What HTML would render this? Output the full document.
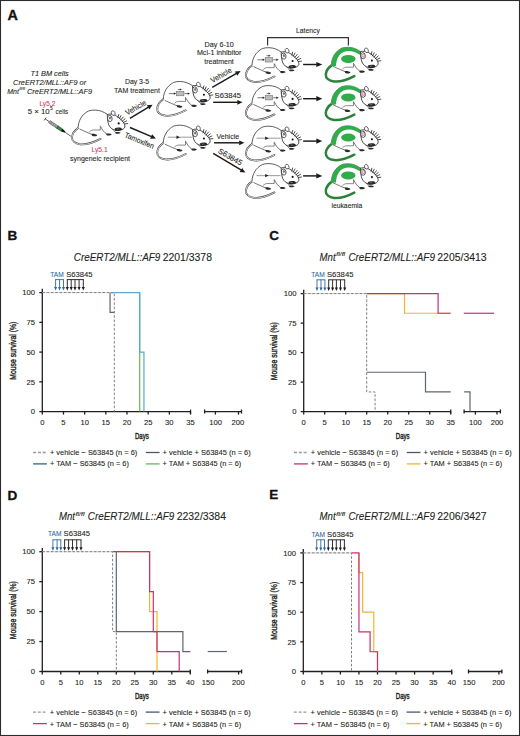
<!DOCTYPE html><html><head><meta charset="utf-8"><style>html,body{margin:0;padding:0;background:#fff;}svg{display:block;font-family:"Liberation Sans",sans-serif;}</style></head><body>
<svg width="520" height="736" viewBox="0 0 520 736">
<rect x="0" y="0" width="520" height="736" fill="#fff"/>
<defs><g id="mw"><path d="M7.4 17.6 C4 19.8 1.2 23.2 0.9 27.2 C0.7 30.8 4 33.6 9.2 34.2 C15 34.8 21 33.2 29.4 28.8" fill="none" stroke="#3a3a3a" stroke-width="1.8" stroke-linecap="round"/><path d="M7.4 17.6 C4 19.8 1.2 23.2 0.9 27.2 C0.7 30.8 4 33.6 9.2 34.2 C15 34.8 21 33.2 29.4 28.8" fill="none" stroke="#fff" stroke-width="0.8" stroke-linecap="round"/><path d="M7 17.6 C7.3 10.5 10.8 4.2 17.4 0.9 C21 -0.5 27 -0.2 30.5 1.2 C32.6 2 34.6 3.1 36.4 4.4 L38.2 14 C36.5 17.2 33.4 19.6 29.4 20.2 L22 20.3 C17 21.6 12.6 21 8.4 18.8 Z" fill="#fff" stroke="none"/><path d="M7 17.6 C7.3 10.5 10.8 4.2 17.4 0.9 C21 -0.5 27 -0.2 30.5 1.2 C32.6 2 34.6 3.1 36.4 4.4" fill="none" stroke="#333" stroke-width="0.8"/><path d="M8.4 18.8 C11 20.2 13.4 21.1 15.4 22 C17.2 22.9 19 23.7 21 24.3" fill="none" stroke="#2a2a2a" stroke-width="0.65"/><path d="M20.4 23.8 C22.6 23.5 25 24 26.2 25.2 C25.2 26.5 22.6 26.5 20.9 25.6 Z" fill="#2a2a2a"/><path d="M18.1 22 C19.5 20.5 21 19.9 22.2 19.9 L29.2 19.9 M29.2 15.6 V19.9" fill="none" stroke="#2a2a2a" stroke-width="0.55"/><path d="M29.5 16.5 C31 19.5 33 22.3 35.6 23.9" fill="none" stroke="#2a2a2a" stroke-width="0.65"/><path d="M35 23.7 C37 23 39.6 23.3 40.6 24.4 C39.6 25.6 37 25.7 35.5 25.1 Z" fill="#2a2a2a"/><path d="M41.3 18.6 C42.3 20 43.3 21.3 44.6 22.3" fill="none" stroke="#2a2a2a" stroke-width="0.6"/><path d="M44 22.2 C46 21.5 48.6 21.7 49.6 22.6 C48.6 23.6 46 23.8 44.5 23.3 Z" fill="#2a2a2a"/><path d="M36.2 4.4 C38.6 3.6 42 3.9 44.6 5.4 C47.4 7 50.2 9.6 52.1 12 C53.3 13.6 54.1 15.4 53.8 16.9 C53.1 18.6 51.5 19.5 49.6 19.8 L44.2 20 C41.2 19.6 38.9 17.6 37.6 14.6 C36.7 12 36.2 8.2 36.2 4.4 Z" fill="#fff" stroke="#2a2a2a" stroke-width="0.85"/><ellipse cx="42.1" cy="3.0" rx="1.8" ry="2.4" transform="rotate(-25 42.1 3.0)" fill="#fff" stroke="#2a2a2a" stroke-width="0.65"/><ellipse cx="38.7" cy="8.4" rx="2.3" ry="3.1" transform="rotate(-10 38.7 8.4)" fill="#fff" stroke="#2a2a2a" stroke-width="0.75"/><ellipse cx="38.9" cy="8.0" rx="1.1" ry="1.4" fill="#777" stroke="none"/><circle cx="47.6" cy="13.3" r="1.05" fill="#111"/><path d="M43.6 18.2 C45.2 17.3 48 17.1 50.2 17.8 L51.2 19.4 C49.4 20.6 46.4 21.3 44.2 20.9 Z" fill="#262626"/><path d="M45.6 18.4 L46.3 19.5 L47.1 18.3 L47.9 19.4" fill="none" stroke="#ddd" stroke-width="0.3"/><line x1="46.8" y1="7.5" x2="47.6" y2="4.4" stroke="#222" stroke-width="0.8" stroke-linecap="round"/><line x1="48.3" y1="8.6" x2="49.92" y2="5.4" stroke="#222" stroke-width="0.8" stroke-linecap="round"/><line x1="49.8" y1="9.8" x2="52.16" y2="6.84" stroke="#222" stroke-width="0.8" stroke-linecap="round"/><line x1="51.2" y1="11.0" x2="53.97" y2="8.7" stroke="#222" stroke-width="0.8" stroke-linecap="round"/><line x1="52.5" y1="12.3" x2="55.56" y2="10.8" stroke="#222" stroke-width="0.8" stroke-linecap="round"/><line x1="53.6" y1="13.8" x2="56.54" y2="13.44" stroke="#222" stroke-width="0.8" stroke-linecap="round"/></g><g id="mg"><path d="M7.4 17.6 C4 19.8 1.2 23.2 0.9 27.2 C0.7 30.8 4 33.6 9.2 34.2 C15 34.8 21 33.2 29.4 28.8" fill="none" stroke="#2c8239" stroke-width="2.5" stroke-linecap="round" transform="translate(0.6 0)"/><path d="M7 17.6 C7.3 10.5 10.8 4.2 17.4 0.9 C21 -0.5 27 -0.2 30.5 1.2 C32.6 2 34.6 3.1 36.4 4.4 L38.2 14 C36.5 17.2 33.4 19.6 29.4 20.2 L22 20.3 C17 21.6 12.6 21 8.4 18.8 Z" fill="#fff" stroke="none"/><path d="M7 17.6 C7.3 10.5 10.8 4.2 17.4 0.9 C21 -0.5 27 -0.2 30.5 1.2 C32.6 2 34.6 3.1 36.4 4.4" fill="none" stroke="#333" stroke-width="0.6"/><path d="M6.9 18.8 C7.0 10.5 10.7 4.1 17.3 0.8 C21 -0.6 27 -0.3 30.6 1.1 C32.7 1.9 34.7 3.0 36.6 4.3 L35.5 7.4 C33.8 6.3 32 5.3 30.1 4.6 C27 3.4 22.4 3.3 19.3 4.6 C14.6 6.8 12.0 11.4 11.7 18.8 Z" fill="#30ad4a"/><ellipse cx="24.0" cy="11.6" rx="7.2" ry="4.0" fill="#30ad4a"/><path d="M8.4 18.8 C11 20.2 13.4 21.1 15.4 22 C17.2 22.9 19 23.7 21 24.3" fill="none" stroke="#2a2a2a" stroke-width="0.65"/><path d="M20.4 23.8 C22.6 23.5 25 24 26.2 25.2 C25.2 26.5 22.6 26.5 20.9 25.6 Z" fill="#2a2a2a"/><path d="M18.1 22 C19.5 20.5 21 19.9 22.2 19.9 L29.2 19.9 M29.2 15.6 V19.9" fill="none" stroke="#2a2a2a" stroke-width="0.55"/><path d="M29.5 16.5 C31 19.5 33 22.3 35.6 23.9" fill="none" stroke="#2a2a2a" stroke-width="0.65"/><path d="M35 23.7 C37 23 39.6 23.3 40.6 24.4 C39.6 25.6 37 25.7 35.5 25.1 Z" fill="#2a2a2a"/><path d="M41.3 18.6 C42.3 20 43.3 21.3 44.6 22.3" fill="none" stroke="#2a2a2a" stroke-width="0.6"/><path d="M44 22.2 C46 21.5 48.6 21.7 49.6 22.6 C48.6 23.6 46 23.8 44.5 23.3 Z" fill="#2a2a2a"/><path d="M36.2 4.4 C38.6 3.6 42 3.9 44.6 5.4 C47.4 7 50.2 9.6 52.1 12 C53.3 13.6 54.1 15.4 53.8 16.9 C53.1 18.6 51.5 19.5 49.6 19.8 L44.2 20 C41.2 19.6 38.9 17.6 37.6 14.6 C36.7 12 36.2 8.2 36.2 4.4 Z" fill="#fff" stroke="#2a2a2a" stroke-width="0.85"/><ellipse cx="42.1" cy="3.0" rx="1.8" ry="2.4" transform="rotate(-25 42.1 3.0)" fill="#fff" stroke="#2a2a2a" stroke-width="0.65"/><ellipse cx="38.7" cy="8.4" rx="2.3" ry="3.1" transform="rotate(-10 38.7 8.4)" fill="#fff" stroke="#2a2a2a" stroke-width="0.75"/><ellipse cx="38.9" cy="8.2" rx="1.2" ry="1.6" fill="#fbe3ea" stroke="#c03a5a" stroke-width="0.55"/><circle cx="47.6" cy="13.3" r="1.05" fill="#111"/><path d="M43.6 18.2 C45.2 17.3 48 17.1 50.2 17.8 L51.2 19.4 C49.4 20.6 46.4 21.3 44.2 20.9 Z" fill="#262626"/><path d="M45.6 18.4 L46.3 19.5 L47.1 18.3 L47.9 19.4" fill="none" stroke="#ddd" stroke-width="0.3"/><line x1="46.8" y1="7.5" x2="47.6" y2="4.4" stroke="#222" stroke-width="0.8" stroke-linecap="round"/><line x1="48.3" y1="8.6" x2="49.92" y2="5.4" stroke="#222" stroke-width="0.8" stroke-linecap="round"/><line x1="49.8" y1="9.8" x2="52.16" y2="6.84" stroke="#222" stroke-width="0.8" stroke-linecap="round"/><line x1="51.2" y1="11.0" x2="53.97" y2="8.7" stroke="#222" stroke-width="0.8" stroke-linecap="round"/><line x1="52.5" y1="12.3" x2="55.56" y2="10.8" stroke="#222" stroke-width="0.8" stroke-linecap="round"/><line x1="53.6" y1="13.8" x2="56.54" y2="13.44" stroke="#222" stroke-width="0.8" stroke-linecap="round"/></g></defs>
<text x="7.40" y="19.70" font-size="13.8" fill="#111" font-weight="bold" textLength="10.40" lengthAdjust="spacingAndGlyphs" stroke="#111" stroke-width="0.3">A</text>
<text x="30.40" y="75.90" font-size="7.6" fill="#231f20" font-style="italic" textLength="38.40" lengthAdjust="spacingAndGlyphs"  stroke="#231f20" stroke-width="0.1">T1 BM cells</text>
<text x="13.10" y="84.60" font-size="7.6" fill="#231f20" font-style="italic" textLength="73.00" lengthAdjust="spacingAndGlyphs"  stroke="#231f20" stroke-width="0.1">CreERT2/MLL::AF9 or</text>
<text x="7.30" y="93.90" font-size="7.6" fill="#231f20" font-style="italic" textLength="11.60" lengthAdjust="spacingAndGlyphs"  stroke="#231f20" stroke-width="0.1">Mnt</text>
<text x="19.30" y="90.40" font-size="4.4" fill="#231f20" font-style="italic" textLength="5.60" lengthAdjust="spacingAndGlyphs"  stroke="#231f20" stroke-width="0.1">fl/fl</text>
<text x="26.90" y="93.90" font-size="7.6" fill="#231f20" font-style="italic" textLength="65.20" lengthAdjust="spacingAndGlyphs"  stroke="#231f20" stroke-width="0.1">CreERT2/MLL::AF9</text>
<text x="39.40" y="105.60" font-size="7.6" fill="#d23a5f" textLength="16.00" lengthAdjust="spacingAndGlyphs"  stroke="#d23a5f" stroke-width="0.1">Ly5.2</text>
<text x="27.80" y="114.00" font-size="7.6" fill="#231f20" textLength="21.80" lengthAdjust="spacingAndGlyphs"  stroke="#231f20" stroke-width="0.1">5 × 10</text>
<text x="50.10" y="110.40" font-size="5.0" fill="#231f20" textLength="2.60" lengthAdjust="spacingAndGlyphs"  stroke="#231f20" stroke-width="0.1">5</text>
<text x="55.60" y="114.00" font-size="7.6" fill="#231f20" textLength="12.60" lengthAdjust="spacingAndGlyphs"  stroke="#231f20" stroke-width="0.1">cells</text>
<g transform="translate(45.2 118.9) rotate(34)"><line x1="0" y1="-1.8" x2="0" y2="1.8" stroke="#444" stroke-width="0.8"/><line x1="0" y1="0" x2="5" y2="0" stroke="#444" stroke-width="0.8"/><rect x="5" y="-1.35" width="10.5" height="2.7" fill="#a8a8a8" stroke="#444" stroke-width="0.5"/><line x1="7.5" y1="-1.3" x2="7.5" y2="1.3" stroke="#555" stroke-width="0.4"/><line x1="10" y1="-1.3" x2="10" y2="1.3" stroke="#555" stroke-width="0.4"/><line x1="12.5" y1="-1.3" x2="12.5" y2="1.3" stroke="#555" stroke-width="0.4"/><rect x="14.6" y="-1.35" width="5.6" height="2.7" fill="#2f8f3c" stroke="#1e1e1e" stroke-width="0.45"/><path d="M20 -1.5 L24 -0.6 L24 0.6 L20 1.5 Z" fill="#111"/><line x1="24" y1="0" x2="31" y2="0" stroke="#222" stroke-width="0.65"/></g>
<use href="#mw" x="71.1" y="110.1"/>
<text x="91.50" y="152.30" font-size="7.6" fill="#d23a5f" textLength="16.20" lengthAdjust="spacingAndGlyphs"  stroke="#d23a5f" stroke-width="0.1">Ly5.1</text>
<text x="70.00" y="160.80" font-size="7.6" fill="#231f20" textLength="60.00" lengthAdjust="spacingAndGlyphs"  stroke="#231f20" stroke-width="0.1">syngeneic recipient</text>
<line x1="129.90" y1="118.40" x2="148.58" y2="107.13" stroke="#1a1a1a" stroke-width="1.45"/>
<polygon points="152.60,104.70 149.39,109.44 146.91,105.33" fill="#1a1a1a"/>
<text x="127.20" y="115.60" font-size="7.6" fill="#231f20" textLength="22.80" lengthAdjust="spacingAndGlyphs" transform="rotate(-30 127.20 115.60)"  stroke="#231f20" stroke-width="0.1">Vehicle</text>
<line x1="130.00" y1="127.50" x2="151.57" y2="136.66" stroke="#1a1a1a" stroke-width="1.45"/>
<polygon points="155.90,138.50 150.18,138.68 152.05,134.26" fill="#1a1a1a"/>
<text x="124.00" y="136.90" font-size="7.6" fill="#231f20" textLength="31.20" lengthAdjust="spacingAndGlyphs" transform="rotate(23 124.00 136.90)"  stroke="#231f20" stroke-width="0.1">Tamoxifen</text>
<text x="124.90" y="84.10" font-size="7.6" fill="#231f20" textLength="24.20" lengthAdjust="spacingAndGlyphs"  stroke="#231f20" stroke-width="0.1">Day 3-5</text>
<text x="114.10" y="92.90" font-size="7.6" fill="#231f20" textLength="45.80" lengthAdjust="spacingAndGlyphs"  stroke="#231f20" stroke-width="0.1">TAM treatment</text>
<use href="#mw" x="156.3" y="81.5"/>
<rect x="176.50" y="91.40" width="7.4" height="4.4" fill="#bdbdbd" stroke="#666" stroke-width="0.55"/>
<line x1="168.80" y1="93.60" x2="174.50" y2="93.60" stroke="#222" stroke-width="0.6"/>
<polygon points="176.10,93.60 173.90,92.40 173.90,94.80" fill="#222"/>
<line x1="184.50" y1="93.60" x2="188.30" y2="93.60" stroke="#222" stroke-width="0.6"/>
<polygon points="189.90,93.60 187.70,92.40 187.70,94.80" fill="#222"/>
<line x1="177.80" y1="89.50" x2="180.30" y2="89.50" stroke="#222" stroke-width="0.6"/>
<polygon points="181.90,89.50 179.90,88.50 179.90,90.50" fill="#222"/>
<use href="#mw" x="156.3" y="125.2"/>
<line x1="167.80" y1="137.20" x2="191.80" y2="137.20" stroke="#a3a3a3" stroke-width="1.1"/>
<polygon points="179.90,137.20 176.50,135.50 176.50,138.90" fill="#222"/>
<text x="204.60" y="46.90" font-size="7.6" fill="#231f20" textLength="29.20" lengthAdjust="spacingAndGlyphs"  stroke="#231f20" stroke-width="0.1">Day 6-10</text>
<text x="196.90" y="55.40" font-size="7.6" fill="#231f20" textLength="44.60" lengthAdjust="spacingAndGlyphs"  stroke="#231f20" stroke-width="0.1">Mcl-1 inhibitor</text>
<text x="204.30" y="63.80" font-size="7.6" fill="#231f20" textLength="29.50" lengthAdjust="spacingAndGlyphs"  stroke="#231f20" stroke-width="0.1">treatment</text>
<line x1="212.20" y1="87.40" x2="236.52" y2="73.44" stroke="#1a1a1a" stroke-width="1.45"/>
<polygon points="240.60,71.10 237.28,75.77 234.90,71.61" fill="#1a1a1a"/>
<text x="212.60" y="83.20" font-size="7.6" fill="#231f20" textLength="22.80" lengthAdjust="spacingAndGlyphs" transform="rotate(-30 212.60 83.20)"  stroke="#231f20" stroke-width="0.1">Vehicle</text>
<line x1="213.20" y1="102.30" x2="237.80" y2="102.30" stroke="#1a1a1a" stroke-width="1.45"/>
<polygon points="242.50,102.30 237.30,104.70 237.30,99.90" fill="#1a1a1a"/>
<text x="214.60" y="97.50" font-size="7.6" fill="#231f20" textLength="26.40" lengthAdjust="spacingAndGlyphs"  stroke="#231f20" stroke-width="0.1">S63845</text>
<line x1="214.10" y1="142.80" x2="239.70" y2="142.80" stroke="#1a1a1a" stroke-width="1.45"/>
<polygon points="244.40,142.80 239.20,145.20 239.20,140.40" fill="#1a1a1a"/>
<text x="216.50" y="139.40" font-size="7.6" fill="#231f20" textLength="22.60" lengthAdjust="spacingAndGlyphs"  stroke="#231f20" stroke-width="0.1">Vehicle</text>
<line x1="213.20" y1="153.40" x2="241.36" y2="170.19" stroke="#1a1a1a" stroke-width="1.45"/>
<polygon points="245.40,172.60 239.70,172.00 242.16,167.88" fill="#1a1a1a"/>
<text x="217.60" y="152.40" font-size="7.6" fill="#231f20" textLength="26.40" lengthAdjust="spacingAndGlyphs" transform="rotate(30.5 217.60 152.40)"  stroke="#231f20" stroke-width="0.1">S63845</text>
<text x="296.10" y="33.10" font-size="7.6" fill="#231f20" textLength="23.70" lengthAdjust="spacingAndGlyphs"  stroke="#231f20" stroke-width="0.1">Latency</text>
<path d="M267.6 45.5 V37.6 H348.4 V45.5" stroke="#333" stroke-width="1.2" fill="none"/>
<use href="#mw" x="245.0" y="47.7"/>
<rect x="265.20" y="57.60" width="7.4" height="4.4" fill="#bdbdbd" stroke="#666" stroke-width="0.55"/>
<line x1="257.50" y1="59.80" x2="263.20" y2="59.80" stroke="#222" stroke-width="0.6"/>
<polygon points="264.80,59.80 262.60,58.60 262.60,61.00" fill="#222"/>
<line x1="273.20" y1="59.80" x2="277.00" y2="59.80" stroke="#222" stroke-width="0.6"/>
<polygon points="278.60,59.80 276.40,58.60 276.40,61.00" fill="#222"/>
<line x1="266.50" y1="55.70" x2="269.00" y2="55.70" stroke="#222" stroke-width="0.6"/>
<polygon points="270.60,55.70 268.60,54.70 268.60,56.70" fill="#222"/>
<use href="#mg" x="324.3" y="47.3"/>
<line x1="303.10" y1="64.50" x2="316.80" y2="64.50" stroke="#1a1a1a" stroke-width="1.45"/>
<polygon points="322.30,64.50 316.30,67.10 316.30,61.90" fill="#1a1a1a"/>
<use href="#mw" x="245.0" y="85.6"/>
<rect x="265.20" y="95.50" width="7.4" height="4.4" fill="#bdbdbd" stroke="#666" stroke-width="0.55"/>
<line x1="257.50" y1="97.70" x2="263.20" y2="97.70" stroke="#222" stroke-width="0.6"/>
<polygon points="264.80,97.70 262.60,96.50 262.60,98.90" fill="#222"/>
<line x1="273.20" y1="97.70" x2="277.00" y2="97.70" stroke="#222" stroke-width="0.6"/>
<polygon points="278.60,97.70 276.40,96.50 276.40,98.90" fill="#222"/>
<line x1="266.50" y1="93.60" x2="269.00" y2="93.60" stroke="#222" stroke-width="0.6"/>
<polygon points="270.60,93.60 268.60,92.60 268.60,94.60" fill="#222"/>
<use href="#mg" x="324.3" y="85.8"/>
<line x1="303.10" y1="98.70" x2="316.80" y2="98.70" stroke="#1a1a1a" stroke-width="1.45"/>
<polygon points="322.30,98.70 316.30,101.30 316.30,96.10" fill="#1a1a1a"/>
<use href="#mw" x="245.0" y="126.2"/>
<line x1="256.50" y1="138.20" x2="280.50" y2="138.20" stroke="#a3a3a3" stroke-width="1.1"/>
<polygon points="268.60,138.20 265.20,136.50 265.20,139.90" fill="#222"/>
<use href="#mg" x="324.3" y="125.9"/>
<line x1="303.10" y1="141.10" x2="316.80" y2="141.10" stroke="#1a1a1a" stroke-width="1.45"/>
<polygon points="322.30,141.10 316.30,143.70 316.30,138.50" fill="#1a1a1a"/>
<use href="#mw" x="245.0" y="163.6"/>
<line x1="256.50" y1="175.60" x2="280.50" y2="175.60" stroke="#a3a3a3" stroke-width="1.1"/>
<polygon points="268.60,175.60 265.20,173.90 265.20,177.30" fill="#222"/>
<use href="#mg" x="324.3" y="163.8"/>
<line x1="303.10" y1="175.90" x2="316.80" y2="175.90" stroke="#1a1a1a" stroke-width="1.45"/>
<polygon points="322.30,175.90 316.30,178.50 316.30,173.30" fill="#1a1a1a"/>
<text x="331.40" y="207.90" font-size="7.6" fill="#231f20" textLength="31.00" lengthAdjust="spacingAndGlyphs"  stroke="#231f20" stroke-width="0.1">leukaemia</text>
<text x="7.60" y="239.70" font-size="13.2" fill="#111" font-weight="bold" textLength="9.80" lengthAdjust="spacingAndGlyphs" stroke="#111" stroke-width="0.3">B</text>
<text x="73.80" y="260.70" font-size="10.2" fill="#231f20" font-style="italic" textLength="86.50" lengthAdjust="spacingAndGlyphs"  stroke="#231f20" stroke-width="0.1">CreERT2/MLL::AF9</text>
<text x="162.70" y="260.70" font-size="10.2" fill="#231f20" textLength="49.30" lengthAdjust="spacingAndGlyphs"  stroke="#231f20" stroke-width="0.1">2201/3378</text>
<g stroke="#231f20" stroke-width="1.3" fill="none">
<path d="M42.30 288.80 V411.60 H190.53"/>
<path d="M190.53 409.60 V413.60"/>
<path d="M204.60 409.60 V413.60 M204.60 411.60 H241.50 M241.50 409.60 V413.60"/>
<path d="M39.30 411.60 H42.30"/>
<path d="M39.30 381.85 H42.30"/>
<path d="M39.30 352.10 H42.30"/>
<path d="M39.30 322.35 H42.30"/>
<path d="M39.30 292.60 H42.30"/>
<path d="M42.30 411.60 V414.60"/>
<path d="M63.47 411.60 V414.60"/>
<path d="M84.65 411.60 V414.60"/>
<path d="M105.83 411.60 V414.60"/>
<path d="M127.00 411.60 V414.60"/>
<path d="M148.18 411.60 V414.60"/>
<path d="M169.35 411.60 V414.60"/>
<path d="M190.53 411.60 V414.60"/>
<path d="M215.40 411.60 V414.60"/>
<path d="M238.50 411.60 V414.60"/>
</g>
<text x="35.10" y="414.30" font-size="7.7" fill="#231f20" text-anchor="end"  stroke="#231f20" stroke-width="0.1">0</text>
<text x="35.10" y="384.55" font-size="7.7" fill="#231f20" text-anchor="end"  stroke="#231f20" stroke-width="0.1">25</text>
<text x="35.10" y="354.80" font-size="7.7" fill="#231f20" text-anchor="end"  stroke="#231f20" stroke-width="0.1">50</text>
<text x="35.10" y="325.05" font-size="7.7" fill="#231f20" text-anchor="end"  stroke="#231f20" stroke-width="0.1">75</text>
<text x="35.10" y="295.30" font-size="7.7" fill="#231f20" text-anchor="end"  stroke="#231f20" stroke-width="0.1">100</text>
<text x="42.30" y="425.00" font-size="7.6" fill="#231f20" text-anchor="middle"  stroke="#231f20" stroke-width="0.1">0</text>
<text x="63.47" y="425.00" font-size="7.6" fill="#231f20" text-anchor="middle"  stroke="#231f20" stroke-width="0.1">5</text>
<text x="84.65" y="425.00" font-size="7.6" fill="#231f20" text-anchor="middle"  stroke="#231f20" stroke-width="0.1">10</text>
<text x="105.83" y="425.00" font-size="7.6" fill="#231f20" text-anchor="middle"  stroke="#231f20" stroke-width="0.1">15</text>
<text x="127.00" y="425.00" font-size="7.6" fill="#231f20" text-anchor="middle"  stroke="#231f20" stroke-width="0.1">20</text>
<text x="148.18" y="425.00" font-size="7.6" fill="#231f20" text-anchor="middle"  stroke="#231f20" stroke-width="0.1">25</text>
<text x="169.35" y="425.00" font-size="7.6" fill="#231f20" text-anchor="middle"  stroke="#231f20" stroke-width="0.1">30</text>
<text x="190.53" y="425.00" font-size="7.6" fill="#231f20" text-anchor="middle"  stroke="#231f20" stroke-width="0.1">35</text>
<text x="215.60" y="425.00" font-size="7.6" fill="#231f20" text-anchor="middle"  stroke="#231f20" stroke-width="0.1">100</text>
<text x="237.80" y="425.00" font-size="7.6" fill="#231f20" text-anchor="middle"  stroke="#231f20" stroke-width="0.1">200</text>
<text x="134.90" y="438.60" font-size="8.9" fill="#231f20" textLength="13.80" lengthAdjust="spacingAndGlyphs" stroke="#231f20" stroke-width="0.42">Days</text>
<text x="15.80" y="379.70" font-size="8.8" fill="#231f20" textLength="58.00" lengthAdjust="spacingAndGlyphs" transform="rotate(-90 15.80 379.70)" stroke="#231f20" stroke-width="0.38">Mouse survival (%)</text>
<text x="50.30" y="276.80" font-size="7.8" fill="#2d6aa3" textLength="13.40" lengthAdjust="spacingAndGlyphs"  stroke="#2d6aa3" stroke-width="0.1">TAM</text>
<text x="66.20" y="276.80" font-size="7.8" fill="#231f20" textLength="26.40" lengthAdjust="spacingAndGlyphs"  stroke="#231f20" stroke-width="0.1">S63845</text>
<path d="M55.15 279.60 H63.95" stroke="#2d6aa3" stroke-width="0.9" fill="none"/>
<path d="M55.60 279.60 V287.90" stroke="#2d6aa3" stroke-width="0.9" fill="none"/>
<polygon points="55.60,290.40 54.05,287.00 57.15,287.00" fill="#2d6aa3"/>
<path d="M59.60 279.60 V287.90" stroke="#2d6aa3" stroke-width="0.9" fill="none"/>
<polygon points="59.60,290.40 58.05,287.00 61.15,287.00" fill="#2d6aa3"/>
<path d="M63.50 279.60 V287.90" stroke="#2d6aa3" stroke-width="0.9" fill="none"/>
<polygon points="63.50,290.40 61.95,287.00 65.05,287.00" fill="#2d6aa3"/>
<path d="M66.85 279.60 H83.75" stroke="#1a1a1a" stroke-width="0.9" fill="none"/>
<path d="M67.30 279.60 V287.90" stroke="#1a1a1a" stroke-width="0.9" fill="none"/>
<polygon points="67.30,290.40 65.75,287.00 68.85,287.00" fill="#1a1a1a"/>
<path d="M71.20 279.60 V287.90" stroke="#1a1a1a" stroke-width="0.9" fill="none"/>
<polygon points="71.20,290.40 69.65,287.00 72.75,287.00" fill="#1a1a1a"/>
<path d="M75.00 279.60 V287.90" stroke="#1a1a1a" stroke-width="0.9" fill="none"/>
<polygon points="75.00,290.40 73.45,287.00 76.55,287.00" fill="#1a1a1a"/>
<path d="M79.10 279.60 V287.90" stroke="#1a1a1a" stroke-width="0.9" fill="none"/>
<polygon points="79.10,290.40 77.55,287.00 80.65,287.00" fill="#1a1a1a"/>
<path d="M83.30 279.60 V287.90" stroke="#1a1a1a" stroke-width="0.9" fill="none"/>
<polygon points="83.30,290.40 81.75,287.00 84.85,287.00" fill="#1a1a1a"/>
<path d="M139.70 292.60 H139.70 V411.60" stroke="#5db85f" stroke-width="1.2" fill="none"/>
<path d="M110.06 292.60 H139.70 V292.60 H139.70 V352.10 H143.94 V352.10 H143.94 V411.60" stroke="#5aaacb" stroke-width="1.2" fill="none"/>
<path d="M110.06 292.60 H110.06 V312.44 H114.30 V312.44" stroke="#5d6670" stroke-width="1.2" fill="none"/>
<path d="M42.30 292.60 H114.30" stroke="#cfcfcf" stroke-width="0.8" fill="none"/>
<path d="M42.30 292.60 H114.30 V292.60 H114.30 V411.60" stroke="#808080" stroke-width="1.0" fill="none" stroke-dasharray="2.6 1.7"/>
<path d="M33.10 452.50 H46.90" stroke="#999" stroke-width="1.3" fill="none" stroke-dasharray="3 1.8"/>
<text x="49.90" y="454.80" font-size="8.0" fill="#231f20" textLength="87.40" lengthAdjust="spacingAndGlyphs"  stroke="#231f20" stroke-width="0.1">+ vehicle − S63845 (n = 6)</text>
<path d="M145.80 452.50 H159.60" stroke="#4b5866" stroke-width="1.3" fill="none"/>
<text x="162.60" y="454.80" font-size="8.0" fill="#231f20" textLength="88.20" lengthAdjust="spacingAndGlyphs"  stroke="#231f20" stroke-width="0.1">+ vehicle + S63845 (n = 6)</text>
<path d="M33.10 463.90 H46.90" stroke="#2d5f8f" stroke-width="1.3" fill="none"/>
<text x="49.90" y="466.40" font-size="8.0" fill="#231f20" textLength="79.00" lengthAdjust="spacingAndGlyphs"  stroke="#231f20" stroke-width="0.1">+ TAM − S63845 (n = 6)</text>
<path d="M145.80 463.90 H159.60" stroke="#5db85f" stroke-width="1.3" fill="none"/>
<text x="162.60" y="466.40" font-size="8.0" fill="#231f20" textLength="78.60" lengthAdjust="spacingAndGlyphs"  stroke="#231f20" stroke-width="0.1">+ TAM + S63845 (n = 6)</text>
<text x="269.20" y="239.70" font-size="13.2" fill="#111" font-weight="bold" textLength="9.80" lengthAdjust="spacingAndGlyphs" stroke="#111" stroke-width="0.3">C</text>
<text x="319.60" y="260.70" font-size="10.2" fill="#231f20" font-style="italic" textLength="16.00" lengthAdjust="spacingAndGlyphs"  stroke="#231f20" stroke-width="0.1">Mnt</text>
<text x="336.20" y="256.10" font-size="5.8" fill="#231f20" font-style="italic" textLength="9.00" lengthAdjust="spacingAndGlyphs"  stroke="#231f20" stroke-width="0.1">fl/fl</text>
<text x="348.40" y="260.70" font-size="10.2" fill="#231f20" font-style="italic" textLength="86.50" lengthAdjust="spacingAndGlyphs"  stroke="#231f20" stroke-width="0.1">CreERT2/MLL::AF9</text>
<text x="437.30" y="260.70" font-size="10.2" fill="#231f20" textLength="49.30" lengthAdjust="spacingAndGlyphs"  stroke="#231f20" stroke-width="0.1">2205/3413</text>
<g stroke="#231f20" stroke-width="1.3" fill="none">
<path d="M303.70 289.80 V411.60 H450.70"/>
<path d="M450.70 409.60 V413.60"/>
<path d="M464.10 409.60 V413.60 M464.10 411.60 H500.40 M500.40 409.60 V413.60"/>
<path d="M300.70 411.60 H303.70"/>
<path d="M300.70 382.10 H303.70"/>
<path d="M300.70 352.60 H303.70"/>
<path d="M300.70 323.10 H303.70"/>
<path d="M300.70 293.60 H303.70"/>
<path d="M303.70 411.60 V414.60"/>
<path d="M324.70 411.60 V414.60"/>
<path d="M345.70 411.60 V414.60"/>
<path d="M366.70 411.60 V414.60"/>
<path d="M387.70 411.60 V414.60"/>
<path d="M408.70 411.60 V414.60"/>
<path d="M429.70 411.60 V414.60"/>
<path d="M450.70 411.60 V414.60"/>
<path d="M475.40 411.60 V414.60"/>
<path d="M497.00 411.60 V414.60"/>
</g>
<text x="296.50" y="414.30" font-size="7.7" fill="#231f20" text-anchor="end"  stroke="#231f20" stroke-width="0.1">0</text>
<text x="296.50" y="384.80" font-size="7.7" fill="#231f20" text-anchor="end"  stroke="#231f20" stroke-width="0.1">25</text>
<text x="296.50" y="355.30" font-size="7.7" fill="#231f20" text-anchor="end"  stroke="#231f20" stroke-width="0.1">50</text>
<text x="296.50" y="325.80" font-size="7.7" fill="#231f20" text-anchor="end"  stroke="#231f20" stroke-width="0.1">75</text>
<text x="296.50" y="296.30" font-size="7.7" fill="#231f20" text-anchor="end"  stroke="#231f20" stroke-width="0.1">100</text>
<text x="303.70" y="425.00" font-size="7.6" fill="#231f20" text-anchor="middle"  stroke="#231f20" stroke-width="0.1">0</text>
<text x="324.70" y="425.00" font-size="7.6" fill="#231f20" text-anchor="middle"  stroke="#231f20" stroke-width="0.1">5</text>
<text x="345.70" y="425.00" font-size="7.6" fill="#231f20" text-anchor="middle"  stroke="#231f20" stroke-width="0.1">10</text>
<text x="366.70" y="425.00" font-size="7.6" fill="#231f20" text-anchor="middle"  stroke="#231f20" stroke-width="0.1">15</text>
<text x="387.70" y="425.00" font-size="7.6" fill="#231f20" text-anchor="middle"  stroke="#231f20" stroke-width="0.1">20</text>
<text x="408.70" y="425.00" font-size="7.6" fill="#231f20" text-anchor="middle"  stroke="#231f20" stroke-width="0.1">25</text>
<text x="429.70" y="425.00" font-size="7.6" fill="#231f20" text-anchor="middle"  stroke="#231f20" stroke-width="0.1">30</text>
<text x="450.70" y="425.00" font-size="7.6" fill="#231f20" text-anchor="middle"  stroke="#231f20" stroke-width="0.1">35</text>
<text x="475.40" y="425.00" font-size="7.6" fill="#231f20" text-anchor="middle"  stroke="#231f20" stroke-width="0.1">100</text>
<text x="497.00" y="425.00" font-size="7.6" fill="#231f20" text-anchor="middle"  stroke="#231f20" stroke-width="0.1">200</text>
<text x="395.80" y="438.60" font-size="8.9" fill="#231f20" textLength="13.80" lengthAdjust="spacingAndGlyphs" stroke="#231f20" stroke-width="0.42">Days</text>
<text x="277.40" y="380.20" font-size="8.8" fill="#231f20" textLength="58.00" lengthAdjust="spacingAndGlyphs" transform="rotate(-90 277.40 380.20)" stroke="#231f20" stroke-width="0.38">Mouse survival (%)</text>
<text x="311.30" y="277.00" font-size="7.8" fill="#2d6aa3" textLength="13.40" lengthAdjust="spacingAndGlyphs"  stroke="#2d6aa3" stroke-width="0.1">TAM</text>
<text x="327.00" y="277.00" font-size="7.8" fill="#231f20" textLength="26.40" lengthAdjust="spacingAndGlyphs"  stroke="#231f20" stroke-width="0.1">S63845</text>
<path d="M316.55 279.80 H325.35" stroke="#2d6aa3" stroke-width="0.9" fill="none"/>
<path d="M317.00 279.80 V288.50" stroke="#2d6aa3" stroke-width="0.9" fill="none"/>
<polygon points="317.00,291.00 315.45,287.60 318.55,287.60" fill="#2d6aa3"/>
<path d="M321.00 279.80 V288.50" stroke="#2d6aa3" stroke-width="0.9" fill="none"/>
<polygon points="321.00,291.00 319.45,287.60 322.55,287.60" fill="#2d6aa3"/>
<path d="M324.90 279.80 V288.50" stroke="#2d6aa3" stroke-width="0.9" fill="none"/>
<polygon points="324.90,291.00 323.35,287.60 326.45,287.60" fill="#2d6aa3"/>
<path d="M328.25 279.80 H345.15" stroke="#1a1a1a" stroke-width="0.9" fill="none"/>
<path d="M328.70 279.80 V288.50" stroke="#1a1a1a" stroke-width="0.9" fill="none"/>
<polygon points="328.70,291.00 327.15,287.60 330.25,287.60" fill="#1a1a1a"/>
<path d="M332.60 279.80 V288.50" stroke="#1a1a1a" stroke-width="0.9" fill="none"/>
<polygon points="332.60,291.00 331.05,287.60 334.15,287.60" fill="#1a1a1a"/>
<path d="M336.40 279.80 V288.50" stroke="#1a1a1a" stroke-width="0.9" fill="none"/>
<polygon points="336.40,291.00 334.85,287.60 337.95,287.60" fill="#1a1a1a"/>
<path d="M340.50 279.80 V288.50" stroke="#1a1a1a" stroke-width="0.9" fill="none"/>
<polygon points="340.50,291.00 338.95,287.60 342.05,287.60" fill="#1a1a1a"/>
<path d="M344.70 279.80 V288.50" stroke="#1a1a1a" stroke-width="0.9" fill="none"/>
<polygon points="344.70,291.00 343.15,287.60 346.25,287.60" fill="#1a1a1a"/>
<path d="M366.70 293.60 H404.50 V293.60 H404.50 V313.27 H450.70 V313.27" stroke="#efb72c" stroke-width="1.2" fill="none"/>
<path d="M366.70 293.60 H438.10 V293.60 H438.10 V313.27 H450.70 V313.27" stroke="#cc2f73" stroke-width="1.2" fill="none"/>
<path d="M366.70 372.27 H425.50 V372.27 H425.50 V391.93 H450.70 V391.93" stroke="#5d6670" stroke-width="1.2" fill="none"/>
<path d="M303.70 293.60 H366.70" stroke="#cfcfcf" stroke-width="0.8" fill="none"/>
<path d="M303.70 293.60 H366.70 V293.60 H366.70 V391.93 H375.10 V391.93 H375.10 V411.60" stroke="#808080" stroke-width="1.0" fill="none" stroke-dasharray="2.6 1.7"/>
<path d="M463.8 313.27 H494.1" stroke="#cc2f73" stroke-width="1.2" fill="none"/>
<path d="M464.1 391.93 H470.0 V411.60" stroke="#5d6670" stroke-width="1.2" fill="none"/>
<path d="M294.00 452.50 H307.80" stroke="#999" stroke-width="1.3" fill="none" stroke-dasharray="3 1.8"/>
<text x="310.80" y="454.80" font-size="8.0" fill="#231f20" textLength="87.40" lengthAdjust="spacingAndGlyphs"  stroke="#231f20" stroke-width="0.1">+ vehicle − S63845 (n = 6)</text>
<path d="M406.70 452.50 H420.50" stroke="#4b5866" stroke-width="1.3" fill="none"/>
<text x="423.50" y="454.80" font-size="8.0" fill="#231f20" textLength="88.20" lengthAdjust="spacingAndGlyphs"  stroke="#231f20" stroke-width="0.1">+ vehicle + S63845 (n = 6)</text>
<path d="M294.00 463.90 H307.80" stroke="#cc2f73" stroke-width="1.3" fill="none"/>
<text x="310.80" y="466.40" font-size="8.0" fill="#231f20" textLength="79.00" lengthAdjust="spacingAndGlyphs"  stroke="#231f20" stroke-width="0.1">+ TAM − S63845 (n = 6)</text>
<path d="M406.70 463.90 H420.50" stroke="#efb72c" stroke-width="1.3" fill="none"/>
<text x="423.50" y="466.40" font-size="8.0" fill="#231f20" textLength="78.60" lengthAdjust="spacingAndGlyphs"  stroke="#231f20" stroke-width="0.1">+ TAM + S63845 (n = 6)</text>
<text x="7.60" y="499.60" font-size="13.2" fill="#111" font-weight="bold" textLength="9.80" lengthAdjust="spacingAndGlyphs" stroke="#111" stroke-width="0.3">D</text>
<text x="59.00" y="520.30" font-size="10.2" fill="#231f20" font-style="italic" textLength="16.00" lengthAdjust="spacingAndGlyphs"  stroke="#231f20" stroke-width="0.1">Mnt</text>
<text x="75.60" y="515.70" font-size="5.8" fill="#231f20" font-style="italic" textLength="9.00" lengthAdjust="spacingAndGlyphs"  stroke="#231f20" stroke-width="0.1">fl/fl</text>
<text x="87.80" y="520.30" font-size="10.2" fill="#231f20" font-style="italic" textLength="86.50" lengthAdjust="spacingAndGlyphs"  stroke="#231f20" stroke-width="0.1">CreERT2/MLL::AF9</text>
<text x="176.70" y="520.30" font-size="10.2" fill="#231f20" textLength="49.30" lengthAdjust="spacingAndGlyphs"  stroke="#231f20" stroke-width="0.1">2232/3384</text>
<g stroke="#231f20" stroke-width="1.3" fill="none">
<path d="M42.30 547.90 V671.50 H190.30"/>
<path d="M190.30 669.50 V673.50"/>
<path d="M207.60 669.50 V673.50 M207.60 671.50 H241.60 M241.60 669.50 V673.50"/>
<path d="M39.30 671.50 H42.30"/>
<path d="M39.30 641.55 H42.30"/>
<path d="M39.30 611.60 H42.30"/>
<path d="M39.30 581.65 H42.30"/>
<path d="M39.30 551.70 H42.30"/>
<path d="M42.30 671.50 V674.50"/>
<path d="M60.80 671.50 V674.50"/>
<path d="M79.30 671.50 V674.50"/>
<path d="M97.80 671.50 V674.50"/>
<path d="M116.30 671.50 V674.50"/>
<path d="M134.80 671.50 V674.50"/>
<path d="M153.30 671.50 V674.50"/>
<path d="M171.80 671.50 V674.50"/>
<path d="M190.30 671.50 V674.50"/>
<path d="M238.60 671.50 V674.50"/>
</g>
<text x="35.10" y="674.20" font-size="7.7" fill="#231f20" text-anchor="end"  stroke="#231f20" stroke-width="0.1">0</text>
<text x="35.10" y="644.25" font-size="7.7" fill="#231f20" text-anchor="end"  stroke="#231f20" stroke-width="0.1">25</text>
<text x="35.10" y="614.30" font-size="7.7" fill="#231f20" text-anchor="end"  stroke="#231f20" stroke-width="0.1">50</text>
<text x="35.10" y="584.35" font-size="7.7" fill="#231f20" text-anchor="end"  stroke="#231f20" stroke-width="0.1">75</text>
<text x="35.10" y="554.40" font-size="7.7" fill="#231f20" text-anchor="end"  stroke="#231f20" stroke-width="0.1">100</text>
<text x="42.30" y="684.90" font-size="7.6" fill="#231f20" text-anchor="middle"  stroke="#231f20" stroke-width="0.1">0</text>
<text x="60.80" y="684.90" font-size="7.6" fill="#231f20" text-anchor="middle"  stroke="#231f20" stroke-width="0.1">5</text>
<text x="79.30" y="684.90" font-size="7.6" fill="#231f20" text-anchor="middle"  stroke="#231f20" stroke-width="0.1">10</text>
<text x="97.80" y="684.90" font-size="7.6" fill="#231f20" text-anchor="middle"  stroke="#231f20" stroke-width="0.1">15</text>
<text x="116.30" y="684.90" font-size="7.6" fill="#231f20" text-anchor="middle"  stroke="#231f20" stroke-width="0.1">20</text>
<text x="134.80" y="684.90" font-size="7.6" fill="#231f20" text-anchor="middle"  stroke="#231f20" stroke-width="0.1">25</text>
<text x="153.30" y="684.90" font-size="7.6" fill="#231f20" text-anchor="middle"  stroke="#231f20" stroke-width="0.1">30</text>
<text x="171.80" y="684.90" font-size="7.6" fill="#231f20" text-anchor="middle"  stroke="#231f20" stroke-width="0.1">35</text>
<text x="190.30" y="684.90" font-size="7.6" fill="#231f20" text-anchor="middle"  stroke="#231f20" stroke-width="0.1">40</text>
<text x="208.20" y="684.90" font-size="7.6" fill="#231f20" text-anchor="middle"  stroke="#231f20" stroke-width="0.1">150</text>
<text x="238.40" y="684.90" font-size="7.6" fill="#231f20" text-anchor="middle"  stroke="#231f20" stroke-width="0.1">200</text>
<text x="135.00" y="698.50" font-size="8.9" fill="#231f20" textLength="13.80" lengthAdjust="spacingAndGlyphs" stroke="#231f20" stroke-width="0.42">Days</text>
<text x="15.80" y="639.20" font-size="8.8" fill="#231f20" textLength="58.00" lengthAdjust="spacingAndGlyphs" transform="rotate(-90 15.80 639.20)" stroke="#231f20" stroke-width="0.38">Mouse survival (%)</text>
<text x="48.10" y="536.30" font-size="7.8" fill="#2d6aa3" textLength="13.40" lengthAdjust="spacingAndGlyphs"  stroke="#2d6aa3" stroke-width="0.1">TAM</text>
<text x="63.60" y="536.30" font-size="7.8" fill="#231f20" textLength="26.40" lengthAdjust="spacingAndGlyphs"  stroke="#231f20" stroke-width="0.1">S63845</text>
<path d="M52.45 539.80 H61.25" stroke="#2d6aa3" stroke-width="0.9" fill="none"/>
<path d="M52.90 539.80 V548.20" stroke="#2d6aa3" stroke-width="0.9" fill="none"/>
<polygon points="52.90,550.70 51.35,547.30 54.45,547.30" fill="#2d6aa3"/>
<path d="M57.10 539.80 V548.20" stroke="#2d6aa3" stroke-width="0.9" fill="none"/>
<polygon points="57.10,550.70 55.55,547.30 58.65,547.30" fill="#2d6aa3"/>
<path d="M60.80 539.80 V548.20" stroke="#2d6aa3" stroke-width="0.9" fill="none"/>
<polygon points="60.80,550.70 59.25,547.30 62.35,547.30" fill="#2d6aa3"/>
<path d="M64.15 539.80 H81.45" stroke="#1a1a1a" stroke-width="0.9" fill="none"/>
<path d="M64.60 539.80 V548.20" stroke="#1a1a1a" stroke-width="0.9" fill="none"/>
<polygon points="64.60,550.70 63.05,547.30 66.15,547.30" fill="#1a1a1a"/>
<path d="M68.60 539.80 V548.20" stroke="#1a1a1a" stroke-width="0.9" fill="none"/>
<polygon points="68.60,550.70 67.05,547.30 70.15,547.30" fill="#1a1a1a"/>
<path d="M72.50 539.80 V548.20" stroke="#1a1a1a" stroke-width="0.9" fill="none"/>
<polygon points="72.50,550.70 70.95,547.30 74.05,547.30" fill="#1a1a1a"/>
<path d="M76.70 539.80 V548.20" stroke="#1a1a1a" stroke-width="0.9" fill="none"/>
<polygon points="76.70,550.70 75.15,547.30 78.25,547.30" fill="#1a1a1a"/>
<path d="M81.00 539.80 V548.20" stroke="#1a1a1a" stroke-width="0.9" fill="none"/>
<polygon points="81.00,550.70 79.45,547.30 82.55,547.30" fill="#1a1a1a"/>
<path d="M116.30 551.70 H149.60 V551.70 H149.60 V611.60 H157.00 V611.60 H157.00 V671.50" stroke="#efb72c" stroke-width="1.2" fill="none"/>
<path d="M116.30 551.70 H149.60 V551.70 H149.60 V591.63 H153.30 V591.63 H153.30 V631.57 H157.00 V631.57 H157.00 V651.53 H179.20 V651.53 H179.20 V671.50" stroke="#cc2f73" stroke-width="1.2" fill="none"/>
<path d="M112.78 551.70 H116.30 V551.70 H116.30 V631.57 H182.90 V631.57 H182.90 V651.53 H190.30 V651.53" stroke="#5d6670" stroke-width="1.2" fill="none"/>
<path d="M42.30 551.70 H112.60" stroke="#cfcfcf" stroke-width="0.8" fill="none"/>
<path d="M42.30 551.70 H112.60 V551.70 H112.60 V631.57 H116.30 V631.57 H116.30 V671.50" stroke="#808080" stroke-width="1.0" fill="none" stroke-dasharray="2.6 1.7"/>
<path d="M207.7 651.53 H226.9" stroke="#5d6670" stroke-width="1.2" fill="none"/>
<path d="M33.00 712.10 H46.80" stroke="#999" stroke-width="1.3" fill="none" stroke-dasharray="3 1.8"/>
<text x="49.80" y="715.00" font-size="8.0" fill="#231f20" textLength="87.40" lengthAdjust="spacingAndGlyphs"  stroke="#231f20" stroke-width="0.1">+ vehicle − S63845 (n = 6)</text>
<path d="M145.70 712.10 H159.50" stroke="#4b5866" stroke-width="1.3" fill="none"/>
<text x="162.50" y="715.00" font-size="8.0" fill="#231f20" textLength="88.20" lengthAdjust="spacingAndGlyphs"  stroke="#231f20" stroke-width="0.1">+ vehicle + S63845 (n = 6)</text>
<path d="M33.00 723.60 H46.80" stroke="#cc2f73" stroke-width="1.3" fill="none"/>
<text x="49.80" y="726.50" font-size="8.0" fill="#231f20" textLength="79.00" lengthAdjust="spacingAndGlyphs"  stroke="#231f20" stroke-width="0.1">+ TAM − S63845 (n = 6)</text>
<path d="M145.70 723.60 H159.50" stroke="#efb72c" stroke-width="1.3" fill="none"/>
<text x="162.50" y="726.50" font-size="8.0" fill="#231f20" textLength="78.60" lengthAdjust="spacingAndGlyphs"  stroke="#231f20" stroke-width="0.1">+ TAM + S63845 (n = 6)</text>
<text x="269.20" y="499.40" font-size="13.2" fill="#111" font-weight="bold" textLength="9.00" lengthAdjust="spacingAndGlyphs" stroke="#111" stroke-width="0.3">E</text>
<text x="319.60" y="520.30" font-size="10.2" fill="#231f20" font-style="italic" textLength="16.00" lengthAdjust="spacingAndGlyphs"  stroke="#231f20" stroke-width="0.1">Mnt</text>
<text x="336.20" y="515.70" font-size="5.8" fill="#231f20" font-style="italic" textLength="9.00" lengthAdjust="spacingAndGlyphs"  stroke="#231f20" stroke-width="0.1">fl/fl</text>
<text x="348.40" y="520.30" font-size="10.2" fill="#231f20" font-style="italic" textLength="86.50" lengthAdjust="spacingAndGlyphs"  stroke="#231f20" stroke-width="0.1">CreERT2/MLL::AF9</text>
<text x="437.30" y="520.30" font-size="10.2" fill="#231f20" textLength="49.30" lengthAdjust="spacingAndGlyphs"  stroke="#231f20" stroke-width="0.1">2206/3427</text>
<g stroke="#231f20" stroke-width="1.3" fill="none">
<path d="M303.30 549.10 V671.50 H451.70"/>
<path d="M451.70 669.50 V673.50"/>
<path d="M468.50 669.50 V673.50 M468.50 671.50 H501.90 M501.90 669.50 V673.50"/>
<path d="M300.30 671.50 H303.30"/>
<path d="M300.30 641.85 H303.30"/>
<path d="M300.30 612.20 H303.30"/>
<path d="M300.30 582.55 H303.30"/>
<path d="M300.30 552.90 H303.30"/>
<path d="M303.30 671.50 V674.50"/>
<path d="M321.85 671.50 V674.50"/>
<path d="M340.40 671.50 V674.50"/>
<path d="M358.95 671.50 V674.50"/>
<path d="M377.50 671.50 V674.50"/>
<path d="M396.05 671.50 V674.50"/>
<path d="M414.60 671.50 V674.50"/>
<path d="M433.15 671.50 V674.50"/>
<path d="M451.70 671.50 V674.50"/>
<path d="M498.90 671.50 V674.50"/>
</g>
<text x="296.10" y="674.20" font-size="7.7" fill="#231f20" text-anchor="end"  stroke="#231f20" stroke-width="0.1">0</text>
<text x="296.10" y="644.55" font-size="7.7" fill="#231f20" text-anchor="end"  stroke="#231f20" stroke-width="0.1">25</text>
<text x="296.10" y="614.90" font-size="7.7" fill="#231f20" text-anchor="end"  stroke="#231f20" stroke-width="0.1">50</text>
<text x="296.10" y="585.25" font-size="7.7" fill="#231f20" text-anchor="end"  stroke="#231f20" stroke-width="0.1">75</text>
<text x="296.10" y="555.60" font-size="7.7" fill="#231f20" text-anchor="end"  stroke="#231f20" stroke-width="0.1">100</text>
<text x="303.30" y="684.90" font-size="7.6" fill="#231f20" text-anchor="middle"  stroke="#231f20" stroke-width="0.1">0</text>
<text x="321.85" y="684.90" font-size="7.6" fill="#231f20" text-anchor="middle"  stroke="#231f20" stroke-width="0.1">5</text>
<text x="340.40" y="684.90" font-size="7.6" fill="#231f20" text-anchor="middle"  stroke="#231f20" stroke-width="0.1">10</text>
<text x="358.95" y="684.90" font-size="7.6" fill="#231f20" text-anchor="middle"  stroke="#231f20" stroke-width="0.1">15</text>
<text x="377.50" y="684.90" font-size="7.6" fill="#231f20" text-anchor="middle"  stroke="#231f20" stroke-width="0.1">20</text>
<text x="396.05" y="684.90" font-size="7.6" fill="#231f20" text-anchor="middle"  stroke="#231f20" stroke-width="0.1">25</text>
<text x="414.60" y="684.90" font-size="7.6" fill="#231f20" text-anchor="middle"  stroke="#231f20" stroke-width="0.1">30</text>
<text x="433.15" y="684.90" font-size="7.6" fill="#231f20" text-anchor="middle"  stroke="#231f20" stroke-width="0.1">35</text>
<text x="451.70" y="684.90" font-size="7.6" fill="#231f20" text-anchor="middle"  stroke="#231f20" stroke-width="0.1">40</text>
<text x="469.20" y="684.90" font-size="7.6" fill="#231f20" text-anchor="middle"  stroke="#231f20" stroke-width="0.1">150</text>
<text x="498.50" y="684.90" font-size="7.6" fill="#231f20" text-anchor="middle"  stroke="#231f20" stroke-width="0.1">200</text>
<text x="395.80" y="698.50" font-size="8.9" fill="#231f20" textLength="13.80" lengthAdjust="spacingAndGlyphs" stroke="#231f20" stroke-width="0.42">Days</text>
<text x="277.40" y="639.80" font-size="8.8" fill="#231f20" textLength="58.00" lengthAdjust="spacingAndGlyphs" transform="rotate(-90 277.40 639.80)" stroke="#231f20" stroke-width="0.38">Mouse survival (%)</text>
<text x="311.50" y="536.70" font-size="7.8" fill="#2d6aa3" textLength="13.40" lengthAdjust="spacingAndGlyphs"  stroke="#2d6aa3" stroke-width="0.1">TAM</text>
<text x="327.10" y="536.70" font-size="7.8" fill="#231f20" textLength="26.40" lengthAdjust="spacingAndGlyphs"  stroke="#231f20" stroke-width="0.1">S63845</text>
<path d="M316.25 539.80 H324.95" stroke="#2d6aa3" stroke-width="0.9" fill="none"/>
<path d="M316.70 539.80 V548.50" stroke="#2d6aa3" stroke-width="0.9" fill="none"/>
<polygon points="316.70,551.00 315.15,547.60 318.25,547.60" fill="#2d6aa3"/>
<path d="M320.80 539.80 V548.50" stroke="#2d6aa3" stroke-width="0.9" fill="none"/>
<polygon points="320.80,551.00 319.25,547.60 322.35,547.60" fill="#2d6aa3"/>
<path d="M324.50 539.80 V548.50" stroke="#2d6aa3" stroke-width="0.9" fill="none"/>
<polygon points="324.50,551.00 322.95,547.60 326.05,547.60" fill="#2d6aa3"/>
<path d="M327.85 539.80 H344.85" stroke="#1a1a1a" stroke-width="0.9" fill="none"/>
<path d="M328.30 539.80 V548.50" stroke="#1a1a1a" stroke-width="0.9" fill="none"/>
<polygon points="328.30,551.00 326.75,547.60 329.85,547.60" fill="#1a1a1a"/>
<path d="M332.50 539.80 V548.50" stroke="#1a1a1a" stroke-width="0.9" fill="none"/>
<polygon points="332.50,551.00 330.95,547.60 334.05,547.60" fill="#1a1a1a"/>
<path d="M336.30 539.80 V548.50" stroke="#1a1a1a" stroke-width="0.9" fill="none"/>
<polygon points="336.30,551.00 334.75,547.60 337.85,547.60" fill="#1a1a1a"/>
<path d="M340.40 539.80 V548.50" stroke="#1a1a1a" stroke-width="0.9" fill="none"/>
<polygon points="340.40,551.00 338.85,547.60 341.95,547.60" fill="#1a1a1a"/>
<path d="M344.40 539.80 V548.50" stroke="#1a1a1a" stroke-width="0.9" fill="none"/>
<polygon points="344.40,551.00 342.85,547.60 345.95,547.60" fill="#1a1a1a"/>
<path d="M358.95 552.90 H358.95 V572.67 H362.66 V572.67 H362.66 V612.20 H373.79 V612.20 H373.79 V651.73 H377.50 V651.73 H377.50 V671.50" stroke="#efb72c" stroke-width="1.2" fill="none"/>
<path d="M351.53 552.90 H358.95 V552.90 H358.95 V631.97 H370.08 V631.97 H370.08 V651.73 H377.50 V651.73 H377.50 V671.50" stroke="#cc2f73" stroke-width="1.2" fill="none"/>
<path d="M303.30 552.90 H351.53" stroke="#cfcfcf" stroke-width="0.8" fill="none"/>
<path d="M303.30 552.90 H351.53 V552.90 H351.53 V671.50" stroke="#808080" stroke-width="1.0" fill="none" stroke-dasharray="2.6 1.7"/>
<path d="M293.80 712.10 H307.60" stroke="#999" stroke-width="1.3" fill="none" stroke-dasharray="3 1.8"/>
<text x="310.60" y="715.00" font-size="8.0" fill="#231f20" textLength="87.40" lengthAdjust="spacingAndGlyphs"  stroke="#231f20" stroke-width="0.1">+ vehicle − S63845 (n = 6)</text>
<path d="M406.50 712.10 H420.30" stroke="#4b5866" stroke-width="1.3" fill="none"/>
<text x="423.30" y="715.00" font-size="8.0" fill="#231f20" textLength="88.20" lengthAdjust="spacingAndGlyphs"  stroke="#231f20" stroke-width="0.1">+ vehicle + S63845 (n = 6)</text>
<path d="M293.80 723.60 H307.60" stroke="#cc2f73" stroke-width="1.3" fill="none"/>
<text x="310.60" y="726.50" font-size="8.0" fill="#231f20" textLength="79.00" lengthAdjust="spacingAndGlyphs"  stroke="#231f20" stroke-width="0.1">+ TAM − S63845 (n = 6)</text>
<path d="M406.50 723.60 H420.30" stroke="#efb72c" stroke-width="1.3" fill="none"/>
<text x="423.30" y="726.50" font-size="8.0" fill="#231f20" textLength="78.60" lengthAdjust="spacingAndGlyphs"  stroke="#231f20" stroke-width="0.1">+ TAM + S63845 (n = 6)</text>
<rect x="0.5" y="0.5" width="519" height="735" fill="none" stroke="#2b2b2b" stroke-width="1.1"/>
</svg></body></html>
